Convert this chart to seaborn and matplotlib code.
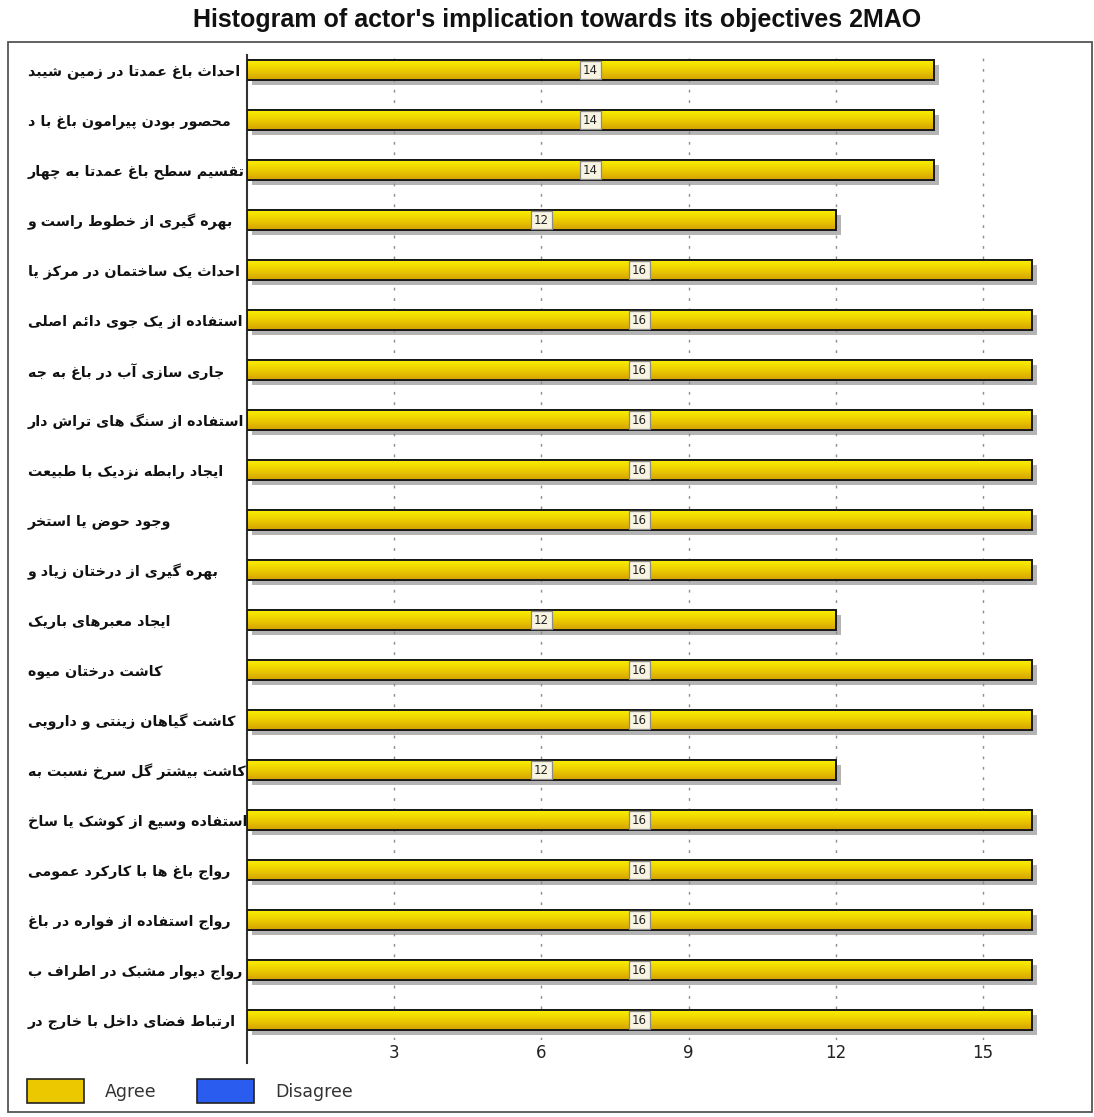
import numpy as np
import pandas as pd
import matplotlib
matplotlib.use("Agg")
import matplotlib.pyplot as plt
import seaborn as sns
from matplotlib import patheffects as pe
from matplotlib.patches import Rectangle, Patch
from matplotlib.font_manager import findfont, FontProperties
from matplotlib.ft2font import FT2Font
from matplotlib.colors import LinearSegmentedColormap

# ---------------- data ----------------
objectives = [
    "احداث باغ عمدتا در زمین شیبد",
    "محصور بودن پیرامون باغ با د",
    "تقسیم سطح باغ عمدتا به چهار",
    "بهره گیری از خطوط راست و",
    "احداث یک ساختمان در مرکز یا",
    "استفاده از یک جوی دائم اصلی",
    "جاری سازی آب در باغ به جه",
    "استفاده از سنگ های تراش دار",
    "ایجاد رابطه نزدیک با طبیعت",
    "وجود حوض یا استخر",
    "بهره گیری از درختان زیاد و",
    "ایجاد معبرهای باریک",
    "کاشت درختان میوه",
    "کاشت گیاهان زینتی و دارویی",
    "کاشت بیشتر گل سرخ نسبت به",
    "استفاده وسیع از کوشک یا ساخ",
    "رواج باغ ها با کارکرد عمومی",
    "رواج استفاده از فواره در باغ",
    "رواج دیوار مشبک در اطراف ب",
    "ارتباط فضای داخل با خارج در",
]
agree = [14, 14, 14, 12, 16, 16, 16, 16, 16, 16, 16, 12, 16, 16, 12, 16, 16, 16, 16, 16]
disagree = [0] * 20
x_ticks = [3, 6, 9, 12, 15]
series_names = ["Agree", "Disagree"]
title = "Histogram of actor's implication towards its objectives 2MAO"

# ------------- minimal Arabic/Persian shaping (matplotlib has no CTL) -------------
ARABIC_FORMS = {
    '\u0621': ('\uFE80', None, None, None),
    '\u0622': ('\uFE81', '\uFE82', None, None),
    '\u0623': ('\uFE83', '\uFE84', None, None),
    '\u0624': ('\uFE85', '\uFE86', None, None),
    '\u0625': ('\uFE87', '\uFE88', None, None),
    '\u0626': ('\uFE89', '\uFE8A', '\uFE8B', '\uFE8C'),
    '\u0627': ('\uFE8D', '\uFE8E', None, None),
    '\u0628': ('\uFE8F', '\uFE90', '\uFE91', '\uFE92'),
    '\u0629': ('\uFE93', '\uFE94', None, None),
    '\u062A': ('\uFE95', '\uFE96', '\uFE97', '\uFE98'),
    '\u062B': ('\uFE99', '\uFE9A', '\uFE9B', '\uFE9C'),
    '\u062C': ('\uFE9D', '\uFE9E', '\uFE9F', '\uFEA0'),
    '\u062D': ('\uFEA1', '\uFEA2', '\uFEA3', '\uFEA4'),
    '\u062E': ('\uFEA5', '\uFEA6', '\uFEA7', '\uFEA8'),
    '\u062F': ('\uFEA9', '\uFEAA', None, None),
    '\u0630': ('\uFEAB', '\uFEAC', None, None),
    '\u0631': ('\uFEAD', '\uFEAE', None, None),
    '\u0632': ('\uFEAF', '\uFEB0', None, None),
    '\u0633': ('\uFEB1', '\uFEB2', '\uFEB3', '\uFEB4'),
    '\u0634': ('\uFEB5', '\uFEB6', '\uFEB7', '\uFEB8'),
    '\u0635': ('\uFEB9', '\uFEBA', '\uFEBB', '\uFEBC'),
    '\u0636': ('\uFEBD', '\uFEBE', '\uFEBF', '\uFEC0'),
    '\u0637': ('\uFEC1', '\uFEC2', '\uFEC3', '\uFEC4'),
    '\u0638': ('\uFEC5', '\uFEC6', '\uFEC7', '\uFEC8'),
    '\u0639': ('\uFEC9', '\uFECA', '\uFECB', '\uFECC'),
    '\u063A': ('\uFECD', '\uFECE', '\uFECF', '\uFED0'),
    '\u0641': ('\uFED1', '\uFED2', '\uFED3', '\uFED4'),
    '\u0642': ('\uFED5', '\uFED6', '\uFED7', '\uFED8'),
    '\u0644': ('\uFEDD', '\uFEDE', '\uFEDF', '\uFEE0'),
    '\u0645': ('\uFEE1', '\uFEE2', '\uFEE3', '\uFEE4'),
    '\u0646': ('\uFEE5', '\uFEE6', '\uFEE7', '\uFEE8'),
    '\u0647': ('\uFEE9', '\uFEEA', '\uFEEB', '\uFEEC'),
    '\u0648': ('\uFEED', '\uFEEE', None, None),
    '\u0649': ('\uFEEF', '\uFEF0', None, None),
    '\u067E': ('\uFB56', '\uFB57', '\uFB58', '\uFB59'),
    '\u0686': ('\uFB7A', '\uFB7B', '\uFB7C', '\uFB7D'),
    '\u0698': ('\uFB8A', '\uFB8B', None, None),
    '\u06A9': ('\uFB8E', '\uFB8F', '\uFB90', '\uFB91'),
    '\u06AF': ('\uFB92', '\uFB93', '\uFB94', '\uFB95'),
    '\u06CC': ('\uFBFC', '\uFBFD', '\uFBFE', '\uFBFF'),
}
LAM_ALEF = {'\u0627': ('\uFEFB', '\uFEFC'), '\u0622': ('\uFEF5', '\uFEF6'),
            '\u0623': ('\uFEF7', '\uFEF8'), '\u0625': ('\uFEF9', '\uFEFA')}


def shape_rtl(s, cmap):
    s = s.replace('\u064A', '\u06CC').replace('\u0643', '\u06A9')

    def dual(c):
        f = ARABIC_FORMS.get(c)
        return f is not None and f[2] is not None

    def joinable(c):
        f = ARABIC_FORMS.get(c)
        return f is not None and f[1] is not None

    out, i, n = [], 0, len(s)
    while i < n:
        c = s[i]
        f = ARABIC_FORMS.get(c)
        if f is None:
            out.append(c)
            i += 1
            continue
        prev_join = i > 0 and dual(s[i - 1]) and joinable(c)
        if c == '\u0644' and i + 1 < n and s[i + 1] in LAM_ALEF:
            iso, fin = LAM_ALEF[s[i + 1]]
            g = fin if prev_join else iso
            if ord(g) in cmap:
                out.append(g)
                i += 2
                continue
        next_join = dual(c) and i + 1 < n and joinable(s[i + 1])
        if prev_join and next_join:
            g = f[3]
        elif prev_join:
            g = f[1]
        elif next_join:
            g = f[2]
        else:
            g = f[0]
        if g is None or ord(g) not in cmap:
            g = c
        out.append(g)
        i += 1
    return ''.join(reversed(out))


def font_cmap(weight):
    path = findfont(FontProperties(family='DejaVu Sans', weight=weight))
    return set(FT2Font(path).get_charmap().keys())


cmap_bold = font_cmap('bold')
label_weight = 'bold' if all(ord(ch) in cmap_bold for ch in '\uFE8D\uFB8F\uFBFD\uFEE3') else 'normal'
label_cmap = cmap_bold if label_weight == 'bold' else font_cmap('normal')

# ---------------- figure ----------------
sns.set_theme(style="white")
plt.rcParams['font.family'] = ['DejaVu Sans']

W_PX, H_PX = 1094, 1117
fig = plt.figure(figsize=(W_PX / 100, H_PX / 100), dpi=100)
fig.patch.set_facecolor('white')

ax_left, ax_right = 247 / W_PX, 1088 / W_PX
ax_top, ax_bottom = 1 - 52 / H_PX, 1 - 1040 / H_PX
ax = fig.add_axes([ax_left, ax_bottom, ax_right - ax_left, ax_top - ax_bottom])

df = pd.DataFrame({"objective": objectives, "agree": agree, "disagree": disagree})
sns.barplot(data=df, x="agree", y="objective", orient="h", width=0.4,
            color="#ecc800", saturation=1, edgecolor="#1a1a1a", linewidth=1.4,
            ax=ax, zorder=3)

bars = list(ax.patches)
grad_cmap = LinearSegmentedColormap.from_list("gold", ["#f9f000", "#eccc00", "#d4a200"])
grad = np.linspace(0, 1, 64).reshape(-1, 1)
for p in bars:
    p.set_path_effects([pe.SimplePatchShadow(offset=(3.5, -3.5), shadow_rgbFace="#8c8c8c", alpha=0.65),
                        pe.Normal()])
    x0, y0, w, h = p.get_x(), p.get_y(), p.get_width(), p.get_height()
    im = ax.imshow(grad, cmap=grad_cmap, aspect="auto", interpolation="bilinear",
                   extent=(x0, x0 + w, y0 + h, y0), zorder=3.1)
    im.set_clip_path(p)
    ax.add_patch(Rectangle((x0, y0), w, h, fill=False, ec="#1a1a1a", lw=1.4, zorder=3.2))

for i, v in enumerate(agree):
    ax.text(v / 2, i, str(v), ha="center", va="center", fontsize=8.5, color="#222",
            zorder=4, bbox=dict(boxstyle="square,pad=0.22", fc="#f8f4e2", ec="#8a8a8a", lw=0.9))

ax.set_xlim(0, (1088 - 247) / 49.07)
ax.set_ylim(19.4, -0.36)
ax.set_xticks(x_ticks)
ax.set_xticklabels([str(t) for t in x_ticks])
ax.set_yticks(range(len(objectives)))
ax.set_yticklabels([shape_rtl(o, label_cmap) for o in objectives])
ax.set_xlabel("")
ax.set_ylabel("")
ax.grid(axis="x", color="#8e8e8e", linestyle=(0, (2, 5.5)), linewidth=1.0)
ax.grid(axis="y", visible=False)
ax.set_axisbelow(True)

for s in ["top", "right", "bottom"]:
    ax.spines[s].set_visible(False)
ax.spines["left"].set_color("#333333")
ax.spines["left"].set_linewidth(1.5)
ax.spines["left"].set_bounds(-0.3, 19.86)

ax.tick_params(axis="x", length=0, labelsize=12, pad=3, colors="#222222")
ax.tick_params(axis="y", length=0, pad=(247 - 28) * 0.72, labelsize=10.3)
for lab in ax.get_yticklabels():
    lab.set_ha("left")
    lab.set_fontweight(label_weight)
    lab.set_color("#111111")

fig.text(0.509, 1 - 20 / H_PX, title, ha="center", va="center", fontsize=18,
         fontweight="bold", family=["Liberation Sans Narrow", "Liberation Sans", "DejaVu Sans"],
         color="#111111")

fig.add_artist(Rectangle((8 / W_PX, 1 - 1112 / H_PX), (1092 - 8) / W_PX, (1112 - 42) / H_PX,
                         transform=fig.transFigure, fill=False, ec="#555555", lw=1.3))

handles = [Patch(fc="#ecc800", ec="#222", lw=1.2, label=series_names[0]),
           Patch(fc="#2a5cf0", ec="#222", lw=1.2, label=series_names[1])]
leg = fig.legend(handles=handles, loc="lower left", bbox_to_anchor=(15 / W_PX, 2 / H_PX),
                 ncol=2, frameon=False, fontsize=12.5, handlelength=3.3, handleheight=1.7,
                 handletextpad=1.2, columnspacing=2.3, borderpad=0.2)
for t in leg.get_texts():
    t.set_color("#333333")

fig.savefig("out.png", dpi=100, facecolor="white")
